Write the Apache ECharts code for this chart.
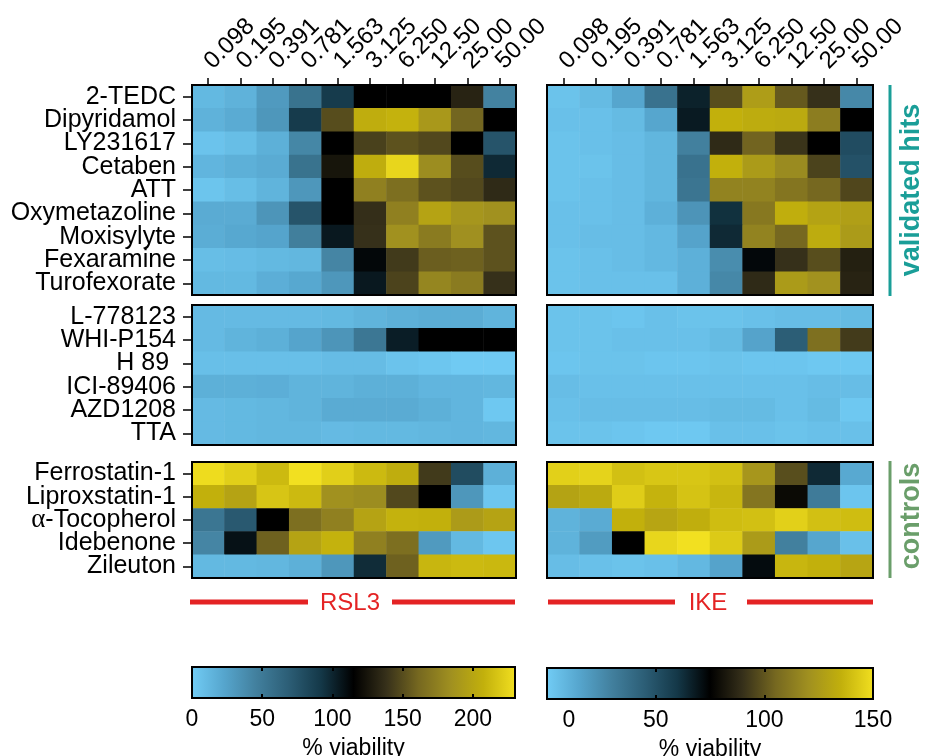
<!DOCTYPE html>
<html>
<head>
<meta charset="utf-8">
<script src="https://cdn.jsdelivr.net/npm/echarts@6/dist/echarts.min.js"></script>
<style>
html, body { margin: 0; padding: 0; background: #fff; }
#chart { width: 925px; height: 756px; }
</style>
</head>
<body>
<div id="chart"></div>
<script>
// concentrations (top axis)
const concentrations = ['0.098', '0.195', '0.391', '0.781', '1.563', '3.125', '6.250', '12.50', '25.00', '50.00'];

const hitNames = ['2-TEDC', 'Dipyridamol', 'LY231617', 'Cetaben', 'ATT', 'Oxymetazoline', 'Moxisylyte', 'Fexaramine', 'Turofexorate'];
const otherNames = ['L-778123', 'WHI-P154', 'H 89 ', 'ICI-89406', 'AZD1208', 'TTA'];
const controlNames = ['Ferrostatin-1', 'Liproxstatin-1', 'α-Tocopherol', 'Idebenone', 'Zileuton'];

// % viability, RSL3
const rsl3Hits = [
    [12, 16, 30, 55, 90, 115, 115, 115, 132, 45],
    [16, 20, 32, 90, 150, 205, 208, 190, 160, 115],
    [6, 9, 17, 42, 115, 145, 152, 148, 115, 75],
    [14, 17, 20, 55, 125, 205, 225, 182, 150, 98],
    [5, 9, 15, 32, 115, 175, 165, 152, 148, 135],
    [20, 20, 33, 75, 115, 137, 175, 198, 188, 185],
    [19, 22, 24, 47, 105, 138, 185, 172, 184, 152],
    [9, 10, 12, 13, 43, 112, 142, 157, 158, 152],
    [12, 12, 18, 22, 32, 105, 146, 178, 172, 138]
];
const rsl3Other = [
    [11, 11, 11, 11, 12, 15, 17, 19, 19, 15],
    [11, 15, 17, 24, 33, 52, 103, 115, 115, 115],
    [8, 8, 8, 8, 10, 10, 6, 4, 2, 2],
    [17, 17, 18, 15, 15, 17, 17, 14, 14, 13],
    [11, 12, 13, 15, 20, 20, 20, 17, 14, 3],
    [11, 12, 13, 13, 11, 12, 12, 13, 14, 13]
];
const rsl3Controls = [
    [228, 222, 212, 230, 222, 212, 205, 142, 80, 17],
    [207, 198, 217, 212, 185, 182, 148, 115, 32, 4],
    [53, 72, 115, 165, 175, 198, 208, 207, 192, 198],
    [43, 108, 158, 198, 208, 175, 165, 30, 12, 4],
    [12, 12, 13, 17, 32, 97, 158, 210, 212, 211]
];

// % viability, IKE
const ikeHits = [
    [4, 7, 15, 36, 66, 98, 126, 101, 90, 27],
    [5, 5, 7, 15, 68, 135, 133, 132, 113, 75],
    [4, 5, 6, 9, 30, 88, 104, 91, 75, 52],
    [4, 4, 6, 9, 36, 135, 125, 118, 95, 50],
    [4, 5, 6, 9, 35, 115, 115, 110, 105, 96],
    [5, 5, 6, 11, 22, 62, 111, 134, 129, 127],
    [5, 6, 6, 8, 16, 64, 115, 105, 133, 125],
    [4, 5, 6, 8, 11, 25, 73, 90, 98, 85],
    [4, 5, 5, 5, 11, 27, 88, 125, 121, 86]
];
const ikeOther = [
    [4, 4, 3, 5, 4, 4, 5, 6, 6, 7],
    [4, 4, 5, 5, 5, 7, 16, 45, 108, 93],
    [3, 4, 4, 3, 3, 4, 3, 3, 2, 2],
    [6, 5, 5, 5, 5, 5, 5, 5, 6, 6],
    [5, 6, 6, 6, 6, 7, 7, 5, 7, 2],
    [4, 4, 3, 2, 2, 5, 5, 4, 5, 5]
];
const ikeControls = [
    [145, 146, 140, 142, 142, 140, 123, 98, 64, 14],
    [129, 132, 144, 136, 141, 137, 110, 78, 32, 3],
    [10, 13, 135, 130, 134, 139, 140, 145, 140, 139],
    [10, 19, 75, 147, 150, 143, 125, 30, 15, 5],
    [6, 5, 4, 5, 8, 16, 72, 137, 135, 130]
];

const rsl3Max = 230;
const ikeMax = 150;

// light blue -> black -> yellow
const cmap = ['#72cdf6', '#56a6ce', '#42809e', '#2c5e76', '#143848', '#000000',
    '#36301a', '#766820', '#a09020', '#c2b00c', '#f2e020'];

const FONT = 'Liberation Sans, Arial, sans-serif';

const panels = [
    { rows: hitNames, values: rsl3Hits, col: 0, top: 85, height: 210, head: true },
    { rows: hitNames, values: ikeHits, col: 1, top: 85, height: 210, head: true },
    { rows: otherNames, values: rsl3Other, col: 0, top: 305, height: 140 },
    { rows: otherNames, values: ikeOther, col: 1, top: 305, height: 140 },
    { rows: controlNames, values: rsl3Controls, col: 0, top: 462, height: 116 },
    { rows: controlNames, values: ikeControls, col: 1, top: 462, height: 116 }
];
const colLeft = [192, 547];
const colWidth = [324, 326];

const grid = [];
const xAxis = [];
const yAxis = [];
const series = [];

panels.forEach((p, i) => {
    grid.push({
        left: colLeft[p.col], top: p.top, width: colWidth[p.col], height: p.height,
        outerBoundsMode: 'none', containLabel: false,
        show: true, borderColor: '#000', borderWidth: 2, backgroundColor: 'transparent', z: 10
    });
    xAxis.push({
        type: 'category', gridIndex: i, data: concentrations,
        position: 'top', show: !!p.head, z: 10,
        axisLine: { show: false },
        axisTick: { show: true, length: 7, lineStyle: { color: '#000', width: 1.5 }, alignWithLabel: true },
        axisLabel: { rotate: -45, fontSize: 24, color: '#000', fontFamily: FONT, margin: 20, interval: 0 },
        splitLine: { show: false }
    });
    yAxis.push({
        type: 'category', gridIndex: i, data: p.rows, inverse: true,
        show: p.col === 0, z: 10,
        axisLine: { show: false },
        axisTick: { show: true, length: 9, lineStyle: { color: '#000', width: 1.5 }, alignWithLabel: true },
        axisLabel: {
            fontSize: 25, color: '#000', fontFamily: FONT, margin: 16, interval: 0,
            formatter: v => v.charAt(0) === 'α' ? '{g|α}' + v.slice(1) : v,
            rich: { g: { fontFamily: 'Liberation Serif, serif', fontSize: 27, color: '#000' } }
        },
        splitLine: { show: false }
    });
    const data = [];
    p.values.forEach((row, r) => {
        row.forEach((v, c) => data.push([c, r, v]));
    });
    series.push({
        type: 'heatmap', xAxisIndex: i, yAxisIndex: i, data: data,
        itemStyle: { borderWidth: 0 }, emphasis: { disabled: true }, silent: true
    });
});

// colour bars
const bars = [
    { left: 192, width: 323, top: 667, max: rsl3Max, zeroShift: 0 },
    { left: 547, width: 326, top: 668, max: ikeMax, zeroShift: 44 }
];
bars.forEach((b) => {
    const gi = grid.length;
    grid.push({
        left: b.left, top: b.top, width: b.width, height: 31,
        outerBoundsMode: 'none', containLabel: false,
        show: true, borderColor: '#000', borderWidth: 2, z: 10,
        backgroundColor: new echarts.graphic.LinearGradient(0, 0, 1, 0,
            cmap.map((c, j) => ({ offset: j / (cmap.length - 1), color: c })))
    });
    const common = {
        type: 'value', gridIndex: gi, min: 0, max: b.max, interval: 50, z: 11,
        axisLine: { show: false },
        axisTick: { show: true, inside: true, length: 4, lineStyle: { color: '#000', width: 2 } },
        splitLine: { show: false }
    };
    xAxis.push(Object.assign({}, common, {
        position: 'bottom',
        axisLabel: {
            fontSize: 23, color: '#000', fontFamily: FONT, margin: 10, showMaxLabel: b.max % 50 === 0,
            formatter: v => v === 0 ? '{z|0}' : String(v),
            rich: { z: { fontSize: 23, fontFamily: FONT, color: '#000', padding: [0, 0, 0, b.zeroShift] } }
        },
        name: '% viability', nameLocation: 'middle', nameGap: 39,
        nameTextStyle: { fontSize: 23, color: '#000', fontFamily: FONT }
    }));
    xAxis.push(Object.assign({}, common, { position: 'top', axisLabel: { show: false } }));
    yAxis.push({ type: 'value', gridIndex: gi, show: false, min: 0, max: 1 });
});

const teal = '#1a9e98';
const green = '#6a9e6a';
const red = '#e42324';

const chart = echarts.init(document.getElementById('chart'));
chart.setOption({
    backgroundColor: '#fff',
    animation: false,
    grid: grid,
    xAxis: xAxis,
    yAxis: yAxis,
    visualMap: [
        { type: 'continuous', show: false, min: 0, max: rsl3Max, seriesIndex: [0, 2, 4], inRange: { color: cmap } },
        { type: 'continuous', show: false, min: 0, max: ikeMax, seriesIndex: [1, 3, 5], inRange: { color: cmap } }
    ],
    series: series,
    graphic: [
        { type: 'line', shape: { x1: 890, y1: 85, x2: 890, y2: 296 }, style: { stroke: teal, lineWidth: 3 } },
        { type: 'text', x: 912, y: 190, rotation: Math.PI / 2,
          style: { text: 'validated hits', fill: teal, font: 'bold 27px ' + FONT, align: 'center', verticalAlign: 'middle' } },
        { type: 'line', shape: { x1: 890, y1: 461, x2: 890, y2: 578 }, style: { stroke: green, lineWidth: 3 } },
        { type: 'text', x: 912, y: 516, rotation: Math.PI / 2,
          style: { text: 'controls', fill: green, font: 'bold 27px ' + FONT, align: 'center', verticalAlign: 'middle' } },
        { type: 'line', shape: { x1: 190, y1: 602, x2: 308, y2: 602 }, style: { stroke: red, lineWidth: 5 } },
        { type: 'line', shape: { x1: 392, y1: 602, x2: 515, y2: 602 }, style: { stroke: red, lineWidth: 5 } },
        { type: 'text', x: 350, y: 603,
          style: { text: 'RSL3', fill: red, font: '24px ' + FONT, align: 'center', verticalAlign: 'middle' } },
        { type: 'line', shape: { x1: 548, y1: 602, x2: 675, y2: 602 }, style: { stroke: red, lineWidth: 5 } },
        { type: 'line', shape: { x1: 747, y1: 602, x2: 873, y2: 602 }, style: { stroke: red, lineWidth: 5 } },
        { type: 'text', x: 708, y: 603,
          style: { text: 'IKE', fill: red, font: '24px ' + FONT, align: 'center', verticalAlign: 'middle' } }
    ]
});
</script>
</body>
</html>
